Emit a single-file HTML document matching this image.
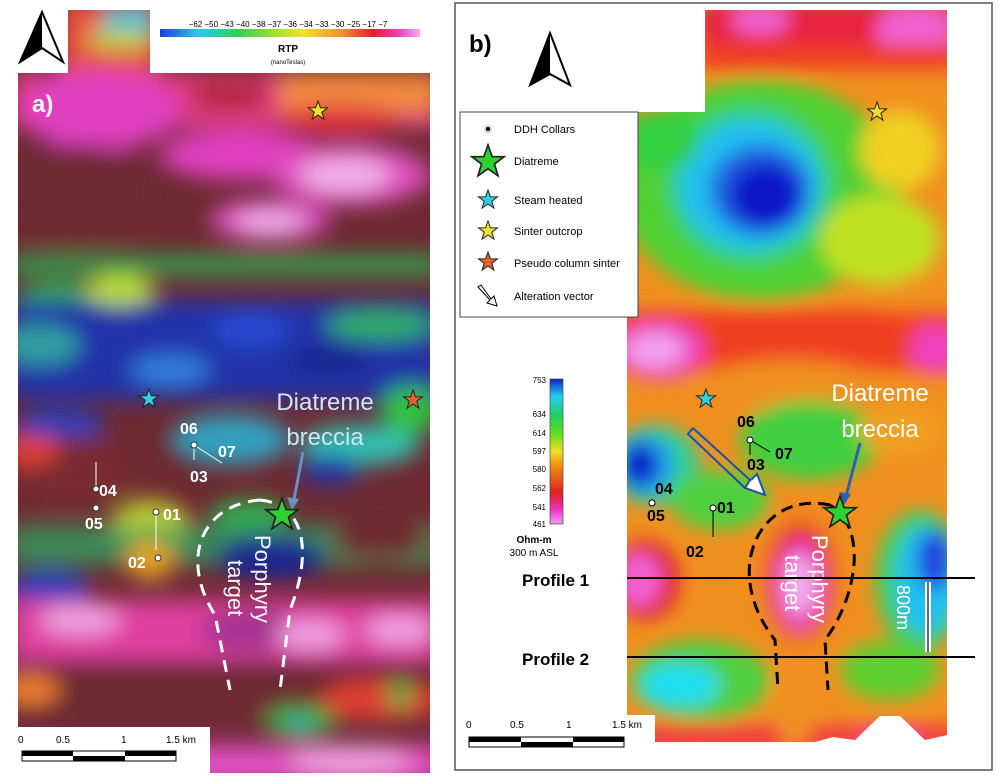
<!DOCTYPE html>
<html><head><meta charset="utf-8"><style>
body{margin:0;background:#fff;width:1000px;height:778px;overflow:hidden;font-family:"Liberation Sans",sans-serif}
svg{display:block}
</style></head><body>
<svg width="1000" height="778" viewBox="0 0 1000 778" xmlns="http://www.w3.org/2000/svg">
<defs>
<filter id="b" x="-20%" y="-20%" width="140%" height="140%"><feGaussianBlur stdDeviation="11"/></filter>
<filter id="b2" x="-20%" y="-20%" width="140%" height="140%"><feGaussianBlur stdDeviation="9"/></filter>
<clipPath id="ca"><path d="M68 10H150V73H430V773H210V727H18V73H68Z"/></clipPath>
<clipPath id="cb"><path d="M705 10H947V735L925 740 900 716 880 716 855 740 833 737 815 742 655 742 655 715 627 715V112H705Z"/></clipPath>
<linearGradient id="rtp" x1="0" x2="1"><stop offset="0" stop-color="#1a3fd8"/><stop offset=".15" stop-color="#30c8f0"/><stop offset=".3" stop-color="#30d050"/><stop offset=".45" stop-color="#a8e030"/><stop offset=".55" stop-color="#f0e030"/><stop offset=".7" stop-color="#f09030"/><stop offset=".82" stop-color="#e02030"/><stop offset=".92" stop-color="#f040c0"/><stop offset="1" stop-color="#f0b0f0"/></linearGradient>
<linearGradient id="ohm" x1="0" y1="1" x2="0" y2="0"><stop offset="0" stop-color="#f0a0f0"/><stop offset=".1" stop-color="#f030c0"/><stop offset=".22" stop-color="#e02020"/><stop offset=".38" stop-color="#f08010"/><stop offset=".5" stop-color="#f0e020"/><stop offset=".62" stop-color="#60e020"/><stop offset=".75" stop-color="#20d060"/><stop offset=".88" stop-color="#20d0f0"/><stop offset="1" stop-color="#1020c0"/></linearGradient>
</defs>
<!-- Panel A -->
<g clip-path="url(#ca)">
<rect x="0" y="0" width="440" height="778" fill="#6e2a32"/>
<g filter="url(#b)">
<rect x="60" y="0" width="100" height="75" fill="#e85040"/>
<ellipse cx="130" cy="20" rx="30" ry="15" fill="#40c0d0"/>
<ellipse cx="120" cy="40" rx="35" ry="10" fill="#c0d040"/>
<rect x="10" y="73" width="430" height="55" fill="#e03c80"/>
<rect x="280" y="73" width="160" height="40" fill="#f08a40"/>
<ellipse cx="230" cy="95" rx="40" ry="15" fill="#b02838"/>
<ellipse cx="340" cy="120" rx="60" ry="15" fill="#e03040"/>
<ellipse cx="100" cy="110" rx="80" ry="40" fill="#e040c0"/>
<ellipse cx="240" cy="155" rx="80" ry="25" fill="#e040c0"/>
<ellipse cx="350" cy="175" rx="80" ry="30" fill="#e050c0"/>
<ellipse cx="345" cy="175" rx="45" ry="18" fill="#f0b0e8"/>
<ellipse cx="270" cy="220" rx="60" ry="20" fill="#e050c8"/>
<ellipse cx="270" cy="222" rx="35" ry="12" fill="#f0b0e8"/>
<ellipse cx="80" cy="195" rx="75" ry="50" fill="#6e2a32"/>
<rect x="10" y="255" width="430" height="20" fill="#30a050"/>
<ellipse cx="60" cy="300" rx="45" ry="18" fill="#30b050"/>
<rect x="10" y="300" width="430" height="100" fill="#2030a8"/>
<ellipse cx="120" cy="290" rx="35" ry="15" fill="#c0e030"/>
<ellipse cx="380" cy="325" rx="55" ry="15" fill="#30b060"/>
<ellipse cx="250" cy="330" rx="40" ry="18" fill="#2848d0"/>
<ellipse cx="40" cy="345" rx="40" ry="20" fill="#30a0a0"/>
<ellipse cx="170" cy="370" rx="40" ry="15" fill="#3080e0"/>
<ellipse cx="330" cy="360" rx="40" ry="15" fill="#1a2890"/>
<ellipse cx="60" cy="425" rx="45" ry="15" fill="#2040c0"/>
<ellipse cx="230" cy="440" rx="60" ry="25" fill="#30a0c0"/>
<ellipse cx="360" cy="445" rx="60" ry="20" fill="#30c0b0"/>
<ellipse cx="410" cy="410" rx="30" ry="25" fill="#30c040"/>
<ellipse cx="70" cy="470" rx="60" ry="35" fill="#7a2a32"/>
<ellipse cx="30" cy="450" rx="30" ry="15" fill="#e04030"/>
<ellipse cx="330" cy="470" rx="30" ry="15" fill="#2030a8"/>
<ellipse cx="150" cy="525" rx="40" ry="25" fill="#c0d030"/>
<ellipse cx="250" cy="515" rx="40" ry="15" fill="#30b050"/>
<rect x="10" y="525" width="430" height="40" fill="#30a060" opacity=".8"/>
<ellipse cx="380" cy="540" rx="50" ry="20" fill="#6e2a32"/>
<ellipse cx="150" cy="560" rx="25" ry="20" fill="#e0a020"/>
<ellipse cx="270" cy="558" rx="55" ry="22" fill="#1a2890"/>
<ellipse cx="50" cy="590" rx="40" ry="20" fill="#2040c0"/>
<rect x="10" y="600" width="430" height="60" fill="#e040a0"/>
<ellipse cx="80" cy="620" rx="40" ry="15" fill="#f0a0e0"/>
<ellipse cx="250" cy="630" rx="50" ry="20" fill="#a03090"/>
<ellipse cx="310" cy="635" rx="35" ry="15" fill="#f0a0e0"/>
<ellipse cx="400" cy="630" rx="35" ry="15" fill="#f0a0e0"/>
<rect x="10" y="660" width="430" height="60" fill="#6e2a32"/>
<ellipse cx="30" cy="690" rx="30" ry="15" fill="#f08030"/>
<ellipse cx="380" cy="700" rx="60" ry="20" fill="#e04030"/>
<ellipse cx="400" cy="695" rx="12" ry="15" fill="#30b040"/>
<ellipse cx="300" cy="722" rx="35" ry="15" fill="#30b040"/>
<ellipse cx="300" cy="725" rx="12" ry="6" fill="#30c0d0"/>
<rect x="10" y="745" width="430" height="40" fill="#e050c0"/>
<ellipse cx="350" cy="760" rx="60" ry="15" fill="#f0a0e0"/>
</g>
</g>
<path d="M42 12 L63 62 L42 48 L20 62Z" fill="#fff" stroke="#000" stroke-width="2"/>
<path d="M42 12 L42 48 L20 62Z" fill="#000"/>
<rect x="160" y="29" width="260" height="8" fill="url(#rtp)"/>
<text x="288" y="27" font-size="8" text-anchor="middle">−62 −50 −43 −40 −38 −37 −36 −34 −33 −30 −25 −17 −7</text>
<text x="288" y="52" font-size="10" font-weight="bold" text-anchor="middle" fill="#000">RTP</text>
<text x="288" y="64" font-size="6" text-anchor="middle">(nanoTeslas)</text>
<text x="32" y="112" font-size="24" font-weight="bold" fill="#f4f4f4">a)</text>
<text x="325" y="410" font-size="24" fill="#d0e4f4" text-anchor="middle">Diatreme</text>
<text x="325" y="445" font-size="24" fill="#d0e4f4" text-anchor="middle">breccia</text>
<path d="M303 452 L293 505" stroke="#6890c0" stroke-width="3"/>
<path d="M287 497 L292 510 L299 499Z" fill="#6890c0"/>
<path d="M260 500 C200 505,180 560,215 615 L230 690 M260 500 C310 505,310 560,290 610 L280 690" fill="none" stroke="#fff" stroke-width="3" stroke-dasharray="12 8"/>
<text transform="translate(255,535) rotate(90)" font-size="22" fill="#f4f4f4">Porphyry</text>
<text transform="translate(228,560) rotate(90)" font-size="22" fill="#f4f4f4">target</text>
<g fill="#fff" font-size="16" font-weight="bold">
<text x="180" y="434">06</text><text x="218" y="457">07</text><text x="190" y="482">03</text>
<text x="99" y="496">04</text><text x="85" y="529">05</text><text x="163" y="520">01</text><text x="128" y="568">02</text>
</g>
<path d="M194 445 L222 463 M194 445 V460 M96 489 V462 M156 512 V550" stroke="#fff" fill="none"/>
<g fill="#fff" stroke="#333"><circle cx="194" cy="445" r="3"/><circle cx="96" cy="489" r="3"/><circle cx="96" cy="508" r="3"/><circle cx="156" cy="512" r="3"/><circle cx="158" cy="558" r="3"/></g>
<rect x="0" y="727" width="210" height="51" fill="#fff"/>
<g font-size="10"><text x="18" y="743">0</text><text x="56" y="743">0.5</text><text x="121" y="743">1</text><text x="166" y="743">1.5 km</text></g>
<rect x="22" y="751" width="154" height="10" fill="#fff" stroke="#000"/>
<rect x="22" y="751" width="51" height="5" fill="#000"/><rect x="73" y="756" width="52" height="5" fill="#000"/><rect x="125" y="751" width="51" height="5" fill="#000"/>
<!-- Panel B -->
<rect x="455" y="3" width="537" height="767" fill="#fff" stroke="#555" stroke-width="1.5"/>
<g clip-path="url(#cb)">
<rect x="600" y="0" width="400" height="778" fill="#f09020"/>
<g filter="url(#b2)">
<rect x="700" y="0" width="260" height="45" fill="#e82040"/>
<ellipse cx="760" cy="20" rx="30" ry="15" fill="#f060d0"/>
<ellipse cx="915" cy="30" rx="40" ry="25" fill="#f060d0"/>
<rect x="700" y="45" width="260" height="25" fill="#f04020"/>
<ellipse cx="760" cy="190" rx="140" ry="110" fill="#50d030"/>
<ellipse cx="750" cy="185" rx="85" ry="80" fill="#30d080"/>
<ellipse cx="750" cy="185" rx="70" ry="65" fill="#20c0f0"/>
<ellipse cx="760" cy="190" rx="50" ry="45" fill="#2060e0"/>
<ellipse cx="765" cy="195" rx="35" ry="32" fill="#0818c8"/>
<ellipse cx="900" cy="150" rx="40" ry="40" fill="#f0d020"/>
<ellipse cx="880" cy="240" rx="60" ry="45" fill="#c0e020"/>
<ellipse cx="920" cy="300" rx="35" ry="25" fill="#f09020"/>
<ellipse cx="660" cy="140" rx="40" ry="30" fill="#30d040"/>
<rect x="600" y="310" width="360" height="60" fill="#f04020"/>
<ellipse cx="660" cy="350" rx="45" ry="30" fill="#f040c0"/>
<ellipse cx="655" cy="350" rx="30" ry="18" fill="#f0a0f0"/>
<ellipse cx="935" cy="350" rx="25" ry="25" fill="#f040c0"/>
<ellipse cx="790" cy="385" rx="90" ry="25" fill="#f09020"/>
<ellipse cx="810" cy="440" rx="70" ry="40" fill="#40d040"/>
<ellipse cx="900" cy="430" rx="40" ry="25" fill="#f0a020"/>
<ellipse cx="655" cy="465" rx="45" ry="40" fill="#30d090"/>
<ellipse cx="645" cy="465" rx="30" ry="30" fill="#20a0f0"/>
<ellipse cx="640" cy="465" rx="18" ry="22" fill="#0818c8"/>
<ellipse cx="720" cy="500" rx="50" ry="30" fill="#50d040"/>
<ellipse cx="800" cy="580" rx="45" ry="75" fill="#f08020"/>
<ellipse cx="800" cy="580" rx="32" ry="55" fill="#e02020"/>
<ellipse cx="800" cy="585" rx="25" ry="45" fill="#f040c0"/>
<ellipse cx="800" cy="585" rx="15" ry="30" fill="#f0b0f0"/>
<ellipse cx="920" cy="580" rx="45" ry="70" fill="#40d060"/>
<ellipse cx="925" cy="580" rx="30" ry="55" fill="#20c0f0"/>
<ellipse cx="935" cy="560" rx="18" ry="30" fill="#2040e0"/>
<ellipse cx="645" cy="580" rx="35" ry="40" fill="#e02030"/>
<ellipse cx="640" cy="580" rx="22" ry="28" fill="#f060d0"/>
<ellipse cx="700" cy="680" rx="70" ry="40" fill="#50d040"/>
<ellipse cx="680" cy="685" rx="40" ry="22" fill="#20e0f0"/>
<ellipse cx="890" cy="670" rx="50" ry="30" fill="#60d030"/>
<rect x="600" y="725" width="360" height="30" fill="#f04040"/>
<ellipse cx="890" cy="740" rx="30" ry="12" fill="#f040c0"/>
<ellipse cx="795" cy="700" rx="20" ry="50" fill="#f09020"/>
</g>
</g>
<text x="469" y="52" font-size="24" font-weight="bold">b)</text>
<path d="M550 33 L570 85 L550 74 L530 85Z" fill="#fff" stroke="#000" stroke-width="2"/>
<path d="M550 33 L550 74 L530 85Z" fill="#000"/>
<rect x="460" y="112" width="178" height="205" fill="#fff" stroke="#444"/>
<g font-size="11"><text x="514" y="133">DDH Collars</text><text x="514" y="165">Diatreme</text><text x="514" y="204">Steam heated</text><text x="514" y="235">Sinter outcrop</text><text x="514" y="267">Pseudo column sinter</text><text x="514" y="300">Alteration vector</text></g>
<circle cx="488" cy="129" r="3" fill="#000" stroke="#ccc" stroke-width="2"/>
<rect x="550" y="379" width="13" height="145" fill="url(#ohm)" stroke="#333" stroke-width=".6"/>
<g font-size="8" text-anchor="end"><text x="546" y="383">753</text><text x="546" y="417">634</text><text x="546" y="436">614</text><text x="546" y="454">597</text><text x="546" y="472">580</text><text x="546" y="491">562</text><text x="546" y="510">541</text><text x="546" y="527">461</text></g>
<text x="534" y="543" font-size="10" font-weight="bold" text-anchor="middle">Ohm-m</text>
<text x="534" y="556" font-size="10" text-anchor="middle">300 m ASL</text>
<path d="M693 428 L750 480 L745 488 L765 495 L757 474 L751 480" fill="#fff" stroke="#2050a0" stroke-width="2"/>
<path d="M693 428 L688 434 L745 488" fill="none" stroke="#2050a0" stroke-width="2"/>
<text x="880" y="401" font-size="24" fill="#fff" text-anchor="middle">Diatreme</text>
<text x="880" y="437" font-size="24" fill="#fff" text-anchor="middle">breccia</text>
<path d="M860 443 L845 500" stroke="#3060b0" stroke-width="3"/>
<path d="M839 492 L844 505 L851 494Z" fill="#3060b0"/>
<path d="M830 505 C760 490,720 570,775 640 L778 690 M830 505 C870 530,855 600,825 640 L828 690" fill="none" stroke="#000" stroke-width="3" stroke-dasharray="12 7"/>
<text transform="translate(812,535) rotate(90)" font-size="22" fill="#fff">Porphyry</text>
<text transform="translate(785,555) rotate(90)" font-size="22" fill="#fff">target</text>
<g font-size="16" font-weight="bold"><text x="737" y="427">06</text><text x="775" y="459">07</text><text x="747" y="470">03</text><text x="655" y="494">04</text><text x="647" y="521">05</text><text x="717" y="513">01</text><text x="686" y="557">02</text></g>
<path d="M750 440 L770 452 M750 440 V455 M713 508 V537" stroke="#000" fill="none"/>
<g fill="#fff" stroke="#000"><circle cx="750" cy="440" r="3"/><circle cx="652" cy="503" r="3"/><circle cx="713" cy="508" r="3"/></g>
<path d="M627 578 H975 M627 657 H975" stroke="#000" stroke-width="2"/>
<text x="522" y="586" font-size="17" font-weight="bold">Profile 1</text>
<text x="522" y="665" font-size="17" font-weight="bold">Profile 2</text>
<path d="M928 582 V652" stroke="#fff" stroke-width="6"/>
<path d="M928 582 V652" stroke="#607080" stroke-width="2"/>
<text transform="translate(897,585) rotate(90)" font-size="18" fill="#fff">800m</text>
<g font-size="10"><text x="466" y="728">0</text><text x="510" y="728">0.5</text><text x="566" y="728">1</text><text x="612" y="728">1.5 km</text></g>
<rect x="469" y="737" width="155" height="10" fill="#fff" stroke="#000"/>
<rect x="469" y="737" width="52" height="5" fill="#000"/><rect x="521" y="742" width="52" height="5" fill="#000"/><rect x="573" y="737" width="51" height="5" fill="#000"/>
<!-- Stars -->
<defs><path id="st" d="M0 -10 L2.4 -3.2 9.5 -3.1 3.8 1.2 5.9 8.1 0 4 -5.9 8.1 -3.8 1.2 -9.5 -3.1 -2.4 -3.2Z"/></defs>
<g stroke="#222" stroke-width="1">
<use href="#st" transform="translate(318,111)" fill="#f0e030"/>
<use href="#st" transform="translate(149,399)" fill="#30d0e0"/>
<use href="#st" transform="translate(413,400)" fill="#e06030"/>
<use href="#st" transform="translate(282,515) scale(1.7)" fill="#30d030"/>
<use href="#st" transform="translate(877,112)" fill="#f0e030"/>
<use href="#st" transform="translate(706,399)" fill="#30d0e0"/>
<use href="#st" transform="translate(840,513) scale(1.7)" fill="#30d030"/>
<use href="#st" transform="translate(488,162) scale(1.7)" fill="#30d030"/>
<use href="#st" transform="translate(488,200)" fill="#30d0e0"/>
<use href="#st" transform="translate(488,231)" fill="#f0e030"/>
<use href="#st" transform="translate(488,262)" fill="#e06030"/>
</g>
<path d="M478 287 L490 300 L487 303 L497 306 L494 296 L491 299 L481 285Z" fill="#fff" stroke="#000"/>
</svg>
</body></html>
